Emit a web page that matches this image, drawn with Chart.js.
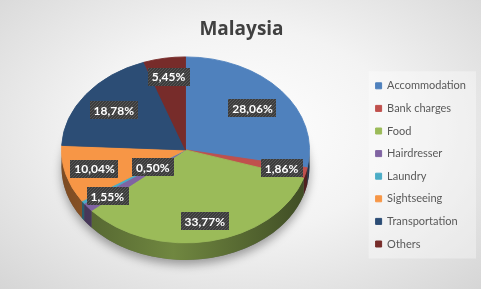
<!DOCTYPE html>
<html>
<head>
<meta charset="utf-8">
<script src="https://cdn.jsdelivr.net/npm/chart.js@4.4.1/dist/chart.umd.min.js"></script>
<style>
html, body { margin: 0; padding: 0; overflow: hidden; }
#chart {
    display: block;
    background: radial-gradient(ellipse 72% 78% at 50% 45%, #ffffff 0%, #f3f3f3 45%, #d5d5d5 100%);
}
</style>
</head>
<body>
<canvas id="chart" width="481" height="289"></canvas>
<script>
const categories = ['Accommodation', 'Bank charges', 'Food', 'Hairdresser', 'Laundry', 'Sightseeing', 'Transportation', 'Others'];
const shares = [28.06, 1.86, 33.77, 1.55, 0.50, 10.04, 18.78, 5.45];
const sliceColors = ['#4F81BD', '#C0504D', '#9BBB59', '#8064A2', '#4BACC6', '#F79646', '#2C4D75', '#772C2A'];
// how far out (fraction of radius) each value label sits
const labelRadius = [0.70, 0.80, 0.78, 0.80, 0.32, 0.76, 0.72, 0.80];

const tilt = 0.75;   // vertical squash of the pie
const depth = 17;    // thickness of the side wall, px
const lift = 15;     // pie sits a bit higher than the legend centre

function shade(hex, f) {
    const n = parseInt(hex.slice(1), 16);
    const r = (n >> 16) & 255, g = (n >> 8) & 255, b = n & 255;
    return `rgb(${Math.round(r * f)},${Math.round(g * f)},${Math.round(b * f)})`;
}

function makePattern(ctx) {
    const c = document.createElement('canvas');
    c.width = 3; c.height = 3;
    const p = c.getContext('2d');
    p.fillStyle = '#3c3c3c';
    p.fillRect(0, 0, 3, 3);
    p.fillStyle = '#575757';
    p.fillRect(0, 0, 1, 1);
    p.fillRect(2, 1, 1, 1);
    p.fillRect(1, 2, 1, 1);
    return ctx.createPattern(c, 'repeat');
}

const legendPanel = {
    id: 'legendPanel',
    beforeDraw(chart) {
        const boxes = chart.legend && chart.legend.legendHitBoxes;
        if (!boxes || !boxes.length) return;
        const first = boxes[0], last = boxes[boxes.length - 1];
        const ctx = chart.ctx;
        ctx.save();
        ctx.fillStyle = 'rgba(255,255,255,0.35)';
        ctx.fillRect(first.left - 7, first.top - 9, chart.legend.right - first.left + 7, last.top + last.height - first.top + 18);
        ctx.restore();
    }
};

const pie3d = {
    id: 'pie3d',
    beforeDatasetsDraw(chart) {
        const ctx = chart.ctx;
        const arcs = chart.getDatasetMeta(0).data;
        const { x, y, outerRadius: R } = arcs[0];
        ctx.save();
        ctx.translate(0, y - lift);
        ctx.scale(1, tilt);
        ctx.translate(0, -y);
        const d = depth / tilt;

        // soft shadow under the pie
        ctx.save();
        ctx.shadowColor = 'rgba(0,0,0,0.35)';
        ctx.shadowBlur = 10;
        ctx.shadowOffsetY = 5;
        ctx.beginPath();
        ctx.arc(x, y + d, R, 0, Math.PI * 2);
        ctx.fillStyle = '#666';
        ctx.fill();
        ctx.restore();

        // side walls, front half only
        arcs.forEach((a, i) => {
            const s = Math.max(a.startAngle, 0);
            const e = Math.min(a.endAngle, Math.PI);
            if (e <= s) return;
            const g = ctx.createLinearGradient(x - R, 0, x + R, 0);
            g.addColorStop(0, shade(sliceColors[i], 0.5));
            g.addColorStop(0.45, shade(sliceColors[i], 0.72));
            g.addColorStop(1, shade(sliceColors[i], 0.4));
            ctx.beginPath();
            ctx.arc(x, y, R, s, e);
            ctx.arc(x, y + d, R, e, s, true);
            ctx.closePath();
            ctx.fillStyle = g;
            ctx.fill();
        });
    },
    afterDatasetsDraw(chart) {
        const ctx = chart.ctx;
        ctx.restore();
        const arcs = chart.getDatasetMeta(0).data;
        const pattern = makePattern(ctx);
        ctx.save();
        ctx.font = 'bold 12px Lato';
        ctx.textAlign = 'center';
        ctx.textBaseline = 'middle';
        arcs.forEach((a, i) => {
            const mid = (a.startAngle + a.endAngle) / 2;
            const r = labelRadius[i] * a.outerRadius;
            const lx = a.x + Math.cos(mid) * r;
            const ly = a.y - lift + Math.sin(mid) * r * tilt;
            const txt = shares[i].toFixed(2).replace('.', ',') + '%';
            const w = ctx.measureText(txt).width + 8, h = 18;
            ctx.fillStyle = pattern;
            ctx.fillRect(Math.round(lx - w / 2), Math.round(ly - h / 2), Math.round(w), h);
            ctx.fillStyle = '#ffffff';
            ctx.fillText(txt, lx, ly + 1);
        });
        ctx.restore();
    }
};

new Chart(document.getElementById('chart'), {
    type: 'pie',
    data: {
        labels: categories,
        datasets: [{
            data: shares,
            backgroundColor: sliceColors,
            borderColor: sliceColors,
            borderWidth: 1,
            radius: 124,
            clip: false
        }]
    },
    options: {
        responsive: false,
        animation: false,
        layout: { padding: { left: 7, right: 5, top: 0, bottom: 0 } },
        plugins: {
            title: {
                display: true,
                text: 'Malaysia',
                color: '#404040',
                font: { family: 'Open Sans', size: 19, weight: 'bold' },
                padding: { top: 18, bottom: 0 }
            },
            legend: {
                position: 'right',
                fullSize: false,
                labels: {
                    boxWidth: 6,
                    boxHeight: 6,
                    padding: 11.6,
                    color: '#595959',
                    font: { family: 'Lato', size: 11 }
                }
            },
            tooltip: { enabled: false }
        }
    },
    plugins: [legendPanel, pie3d]
});
</script>
</body>
</html>
